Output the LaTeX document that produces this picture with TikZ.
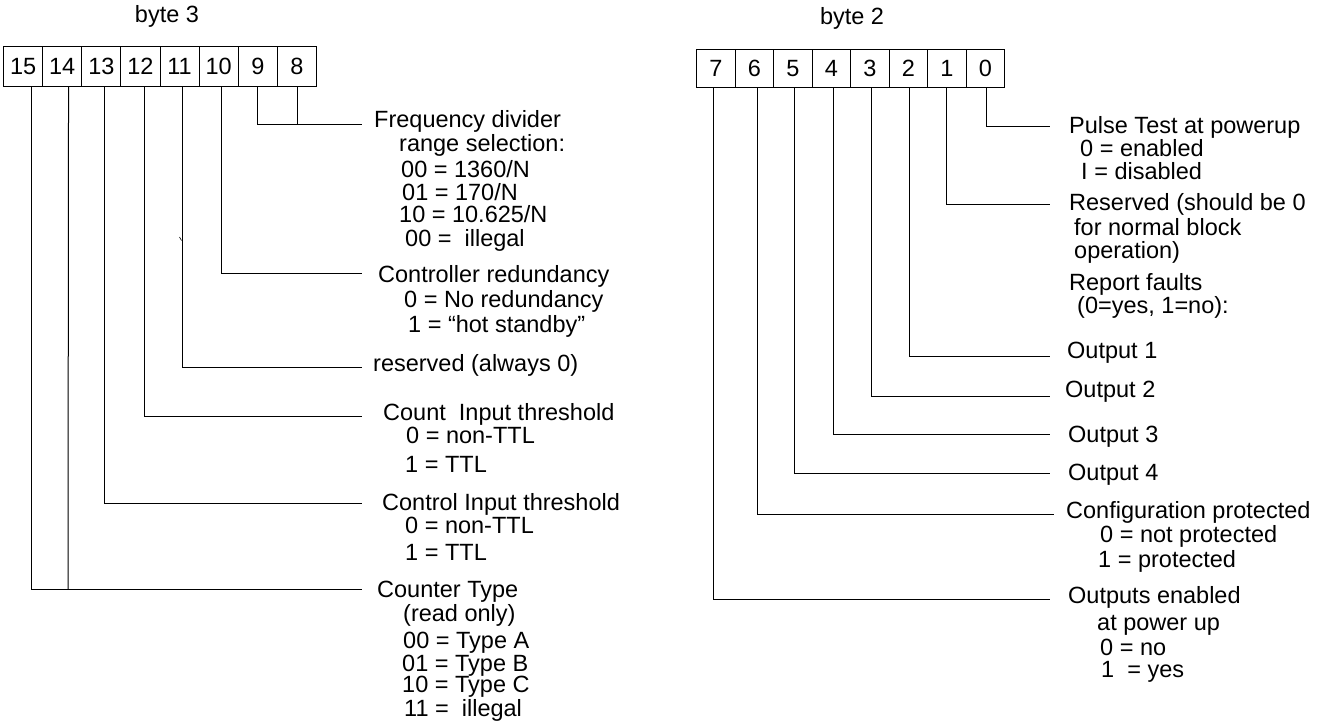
\documentclass[tikz,border=0pt]{standalone}
\usepackage{fontspec}
\setmainfont{Liberation Sans}
\begin{document}
\begin{tikzpicture}[x=1pt,y=-1pt,
  every node/.style={font=\fontsize{23.5}{26}\selectfont, inner sep=0pt},
  lbl/.style={anchor=base west},
  cellL/.style={draw, line width=1.1pt, minimum width=39.125pt, minimum height=40pt, anchor=north west},
  cellR/.style={draw, line width=1.1pt, minimum width=38.5pt, minimum height=38pt, anchor=north west},
  wire/.style={line width=1pt}]
\useasboundingbox (0,0) rectangle (1331,725);
% titles
\node[anchor=base] (t3) at (167,23) {byte 3};
\node[anchor=base] (t2) at (852,25) {byte 2};
% byte 3 cells
\foreach \b [count=\i from 0] in {15,14,13,12,11,10,9,8}
  \node[cellL] (c\b) at ({3+39.125*\i},46) {\b};
% byte 2 cells
\foreach \b [count=\i from 0] in {7,6,5,4,3,2,1,0}
  \node[cellR] (c\b) at ({696+38.5*\i},49) {\b};
% ---- left ends
\coordinate (e8) at (362,124);
\coordinate (e10) at (362,273);
\coordinate (e11) at (362,367);
\coordinate (e12) at (362,416);
\coordinate (e13) at (362,503);
\coordinate (e15) at (362,589);
\coordinate (j14) at (68,589);
\coordinate (j9) at (297,124);
% ---- left connectors
\draw[wire] ([xshift=0.6pt]c8.south) |- (e8);
\draw[wire] ([xshift=-0.3pt]c9.south) |- (j9);
\draw[wire] ([xshift=2.8pt]c10.south) |- (e10);
\draw[wire] ([xshift=2.9pt]c11.south) |- (e11);
\draw[wire] ([xshift=4pt]c12.south) |- (e12);
\draw[wire] ([xshift=3.2pt]c13.south) |- (e13);
\draw[wire] ([xshift=6.3pt]c14.south) -- (j14);
\draw[wire] ([xshift=8.4pt]c15.south) |- (e15);
\draw[line width=0.6pt] (179.5,237) -- (181.5,240.5);
% ---- left labels
\node[lbl] (fd1) at (374,127) {Frequency divider};
\node[lbl] (fd2) at (399,151) {range selection:};
\node[lbl] (fd3) at (401,177) {00 = 1360/N};
\node[lbl] (fd4) at (402,200) {01 = 170/N};
\node[lbl] (fd5) at (399,222) {10 = 10.625/N};
\node[lbl] (fd6) at (405,246) {00 =\ \ illegal};
\node[lbl] (cr1) at (378,282) {Controller redundancy};
\node[lbl] (cr2) at (404,307) {0 = No redundancy};
\node[lbl] (cr3) at (408,332) {1 = “hot standby”};
\node[lbl] (rs1) at (373,371) {reserved (always 0)};
\node[lbl] (ci1) at (383,420) {Count\ \ Input threshold};
\node[lbl] (ci2) at (406,443) {0 = non-TTL};
\node[lbl] (ci3) at (405,472) {1 = TTL};
\node[lbl] (ct1) at (382,510) {Control Input threshold};
\node[lbl] (ct2) at (405,533) {0 = non-TTL};
\node[lbl] (ct3) at (405,560) {1 = TTL};
\node[lbl] (ty1) at (377,597) {Counter Type};
\node[lbl] (ty2) at (403,621) {(read only)};
\node[lbl] (ty3) at (403,648) {00 = Type A};
\node[lbl] (ty4) at (402,671) {01 = Type B};
\node[lbl] (ty5) at (402,692) {10 = Type C};
\node[lbl] (ty6) at (404,716) {11 =\ \ illegal};
% ---- right ends
\coordinate (r0) at (1050,126);
\coordinate (r1) at (1050,204);
\coordinate (r2) at (1050,356);
\coordinate (r3) at (1050,396);
\coordinate (r4) at (1050,434);
\coordinate (r5) at (1050,473);
\coordinate (r6) at (1054,514);
\coordinate (r7) at (1050,599);
% ---- right connectors
\draw[wire] ([xshift=1pt]c0.south) |- (r0);
\draw[wire] ([xshift=0pt]c1.south) |- (r1);
\draw[wire] ([xshift=1pt]c2.south) |- (r2);
\draw[wire] ([xshift=2pt]c3.south) |- (r3);
\draw[wire] ([xshift=2pt]c4.south) |- (r4);
\draw[wire] ([xshift=2pt]c5.south) |- (r5);
\draw[wire] ([xshift=3pt]c6.south) |- (r6);
\draw[wire] ([xshift=-2pt]c7.south) |- (r7);
% ---- right labels
\node[lbl] (pt1) at (1069,133) {Pulse Test at powerup};
\node[lbl] (pt2) at (1080,156) {0 = enabled};
\node[lbl] (pt3) at (1081,179) {I = disabled};
\node[lbl] (rv1) at (1069,210) {Reserved (should be 0};
\node[lbl] (rv2) at (1074,235) {for normal block};
\node[lbl] (rv3) at (1074,258) {operation)};
\node[lbl] (rf1) at (1069,290) {Report faults};
\node[lbl] (rf2) at (1077,313) {(0=yes, 1=no):};
\node[lbl] (o1) at (1067,358) {Output 1};
\node[lbl] (o2) at (1065,397) {Output 2};
\node[lbl] (o3) at (1068,442) {Output 3};
\node[lbl] (o4) at (1068,480) {Output 4};
\node[lbl] (cp1) at (1066,518) {Configuration protected};
\node[lbl] (cp2) at (1100,542) {0 = not protected};
\node[lbl] (cp3) at (1098,567) {1 = protected};
\node[lbl] (oe1) at (1068,603) {Outputs enabled};
\node[lbl] (oe2) at (1097,630) {at power up};
\node[lbl] (oe3) at (1100,655) {0 = no};
\node[lbl] (oe4) at (1101,677) {1\ \ = yes};
\end{tikzpicture}
\end{document}
